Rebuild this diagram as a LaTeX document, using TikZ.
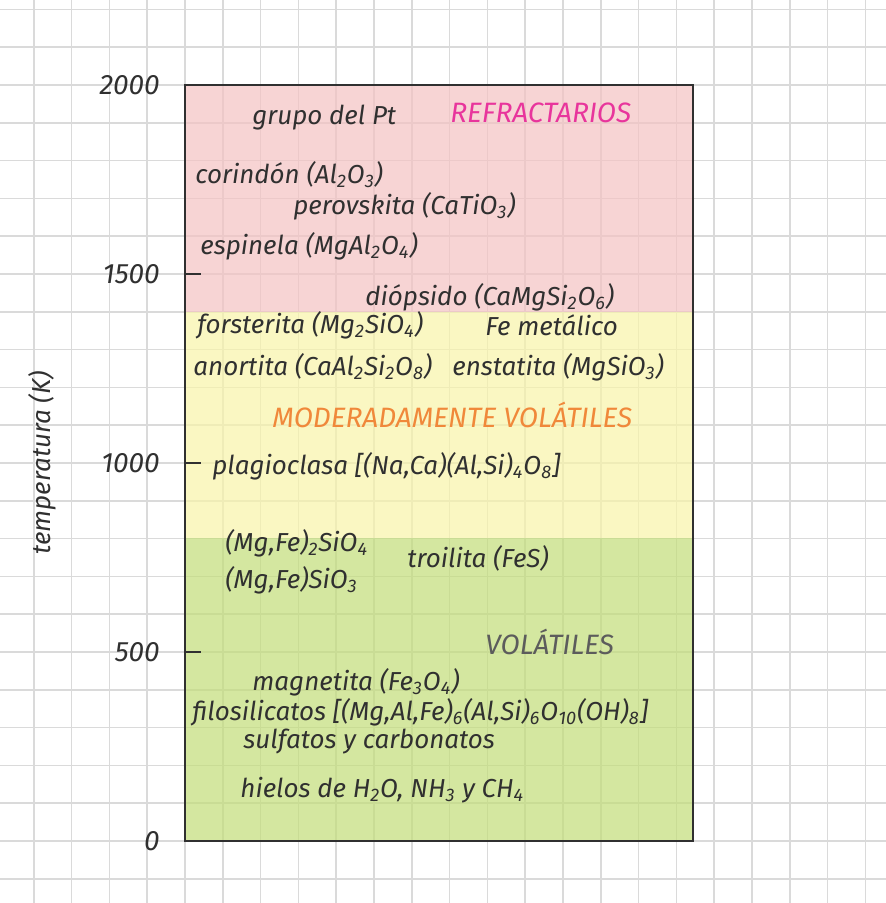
\documentclass[tikz,border=0pt]{standalone}
\usepackage{fontspec}
\setmainfont{Fira Sans}
\usepackage{xcolor}
\definecolor{RefracFill}{HTML}{F5C2C3}
\definecolor{ModFill}{HTML}{F9F4A9}
\definecolor{VolFill}{HTML}{C3DD79}
\definecolor{GridGray}{HTML}{DADADA}
\definecolor{RefracText}{HTML}{E8359C}
\definecolor{ModText}{HTML}{F0883A}
\definecolor{VolText}{HTML}{5C5C5C}
\definecolor{InkGray}{HTML}{303030}
\newcommand{\ix}[1]{\textsubscript{#1}}
\usetikzlibrary{positioning}

\begin{document}
\begin{tikzpicture}[
    x=0.5pt, y=-0.5pt,
    gridline/.style={GridGray, line width=0.8pt},
    band/.style={fill opacity=0.7},
    frame/.style={draw=InkGray, line width=1.2pt},
    tickmark/.style={InkGray, line width=1.2pt},
    mineral/.style={anchor=west, inner sep=0pt, text=InkGray, font=\fontsize{13}{15}\selectfont\itshape},
    group/.style={anchor=west, inner sep=0pt, font=\fontsize{14}{16}\selectfont\itshape},
    axlabel/.style={anchor=east, inner sep=0pt, text=InkGray, font=\fontsize{14}{16}\selectfont\itshape}
  ]
    \useasboundingbox (0,0) rectangle (886,903);
    \fill[white] (0,0) rectangle (886,903);

    % grid
    \foreach \k in {-4,...,18}
      \draw[gridline] ({185+37.8*\k},0) -- ({185+37.8*\k},903);
    \foreach \k in {-2,...,21}
      \draw[gridline] (0,{85+37.8*\k}) -- (886,{85+37.8*\k});

    % bands
    \fill[band, RefracFill] (185,85) rectangle (693,312);
    \fill[band, ModFill] (185,312) rectangle (693,538);
    \fill[band, VolFill] (185,538) rectangle (693,841);

    \draw[frame] (185,85) rectangle (693,841);
    \foreach \t in {274,463,652}
      \draw[tickmark] (185,\t) -- (201,\t);

    % axis
    \node[axlabel] (t2000) at (160,85) {2000};
    \node[axlabel] (t1500) at (160,274) {1500};
    \node[axlabel] (t1000) at (160,463) {1000};
    \node[axlabel] (t500) at (160,652) {500};
    \node[axlabel] (t0) at (160,841) {0};
    \node[rotate=90, text=InkGray, font=\fontsize{13}{15}\selectfont\itshape] (ylabel) at (42,463) {temperatura (K)};

    % refractarios
    \node[mineral] (pt) at (252,118) {grupo del Pt};
    \node[group, text=RefracText] (refrac) at (450,113) {REFRACTARIOS};
    \node[mineral] (corindon) at (195,175) {corindón (Al\ix{2}O\ix{3})};
    \node[mineral] (perov) at (293,206) {perovskita (CaTiO\ix{3})};
    \node[mineral] (espinela) at (200,246) {espinela (MgAl\ix{2}O\ix{4})};
    \node[mineral] (diopsido) at (365,297) {diópsido (CaMgSi\ix{2}O\ix{6})};

    % moderadamente volatiles
    \node[mineral] (forst) at (197,325) {forsterita (Mg\ix{2}SiO\ix{4})};
    \node[mineral] (fe) at (485,325) {Fe metálico};
    \node[mineral] (anort) at (193,367) {anortita (CaAl\ix{2}Si\ix{2}O\ix{8})};
    \node[mineral] (enstat) at (452,367) {enstatita (MgSiO\ix{3})};
    \node[group, text=ModText] (moder) at (272,415) {MODERADAMENTE VOLÁTILES};
    \node[mineral] (plagio) at (212,466) {plagioclasa [(Na,Ca)(Al,Si)\ix{4}O\ix{8}]};

    % volatiles
    \node[mineral] (olivino) at (225,543) {(Mg,Fe)\ix{2}SiO\ix{4}};
    \node[mineral] (troil) at (407,558) {troilita (FeS)};
    \node[mineral] (pirox) at (225,580) {(Mg,Fe)SiO\ix{3}};
    \node[group, text=VolText] (volat) at (485,642) {VOLÁTILES};
    \node[mineral] (magnet) at (252,682) {magnetita (Fe\ix{3}O\ix{4})};
    \node[mineral] (filo) at (192,712) {filosilicatos [(Mg,Al,Fe)\ix{6}(Al,Si)\ix{6}O\ix{10}(OH)\ix{8}]};
    \node[mineral] (sulf) at (243,742) {sulfatos y carbonatos};
    \node[mineral] (hielos) at (240,790) {hielos de H\ix{2}O, NH\ix{3} y CH\ix{4}};
  \end{tikzpicture}
\end{document}
